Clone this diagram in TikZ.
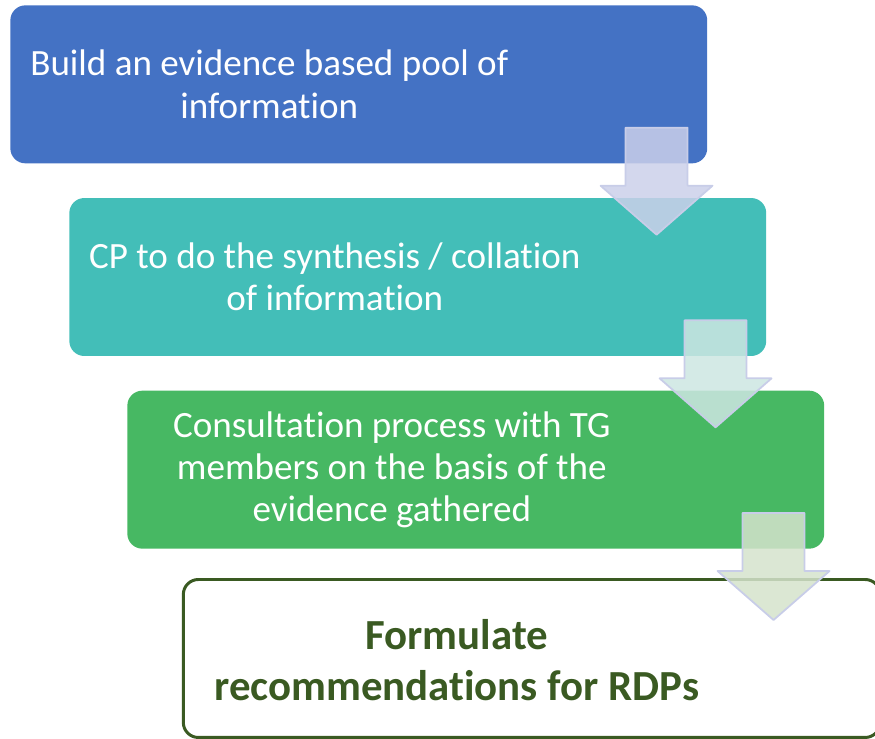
\documentclass[tikz,border=0pt]{standalone}
\usepackage{fontspec}
\setmainfont{Carlito}[Ligatures=NoCommon]
\usetikzlibrary{positioning, calc}
\definecolor{stepblue}{HTML}{4472C4}
\definecolor{stepteal}{HTML}{43BEB8}
\definecolor{stepgreen}{HTML}{47B863}
\definecolor{darkleaf}{HTML}{3A5A22}
\definecolor{arrowa}{HTML}{CBD0EA}
\definecolor{arrowb}{HTML}{CDE6E2}
\definecolor{arrowc}{HTML}{D5E3CC}
\definecolor{arrowline}{HTML}{C8CDE8}
\tikzset{
  every picture/.style={line join=round},
  stepbox/.style={rectangle, rounded corners=0.3cm, minimum width=13.94cm,
    minimum height=3.16cm, inner sep=0pt},
  steptext/.style={text=white, align=center, font=\fontsize{21.1}{24}\selectfont},
  lasttext/.style={text=darkleaf, align=center, font=\fontsize{24.4}{29}\selectfont\bfseries},
  % block arrow hanging below the south east corner of a box
  blockarrow/.pic={
    \path[pic actions] (-82,-36) -- (-20,-36) -- (-20,22) -- (5,22) -- (-51,71)
      -- (-107,22) -- (-82,22) -- cycle;
  },
}
\begin{document}
\begin{tikzpicture}[x={(0.02cm,0cm)}, y={(0cm,-0.02cm)}]
  \useasboundingbox (0,0) rectangle (875,738);
  \clip (0,0) rectangle (875,738);
  % the four steps
  \node[stepbox, fill=stepblue, anchor=north west] (b1) at (10,5) {};
  \node[stepbox, fill=stepteal, below=0.68cm of b1, xshift=1.18cm] (b2) {};
  \node[stepbox, fill=stepgreen, below=0.68cm of b2, xshift=1.16cm] (b3) {};
  \node[stepbox, draw=darkleaf, line width=1.7pt, fill=white, below=0.58cm of b3, xshift=1.12cm] (b4) {};
  % texts
  \node[steptext] (t1) at ([xshift=-1.79cm]b1.center) {Build an evidence based pool of\\information};
  \node[steptext] (t2) at ([xshift=-1.66cm]b2.center) {CP to do the synthesis / collation\\of information};
  \node[steptext] (t3) at ([xshift=-1.68cm]b3.center) {Consultation process with TG\\members on the basis of the\\evidence gathered};
  \node[lasttext] (t4) at ([xshift=-1.5cm, yshift=-0.04cm]b4.center) {Formulate\\recommendations for RDPs};
  % arrows between the steps
  \pic[fill=arrowa, fill opacity=0.85, draw=arrowline, line width=1pt] at (b1.south east) {blockarrow};
  \pic[fill=arrowb, fill opacity=0.85, draw=arrowline, line width=1pt] at (b2.south east) {blockarrow};
  \pic[fill=arrowc, fill opacity=0.85, draw=arrowline, line width=1pt] at (b3.south east) {blockarrow};
\end{tikzpicture}
\end{document}
